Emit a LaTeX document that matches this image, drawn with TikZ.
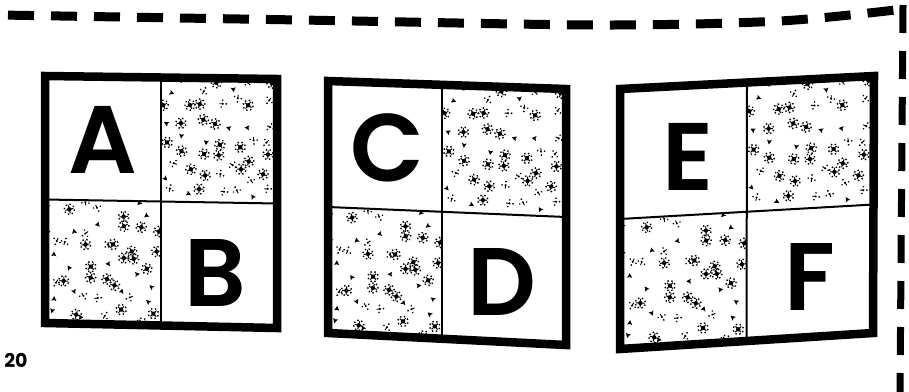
\documentclass[tikz,border=0pt]{standalone}
\usepackage{fontspec}
\setmainfont{Poppins}
\newfontfamily\letfont{Poppins}[UprightFont=* SemiBold, BoldFont=* SemiBold]
\usetikzlibrary{calc}
\tikzset{
  frame/.style={line width=8.5pt, line join=miter},
  divider/.style={line width=2pt},
  bigletter/.style={font=\fontsize{96}{96}\selectfont\letfont, inner sep=0pt, anchor=center},
  pagenum/.style={font=\fontsize{19}{19}\selectfont\bfseries, inner sep=0pt, anchor=center},
  dashtop/.style={line width=9pt, dash pattern=on 26pt off 17pt, dash phase=35pt},
  dashright/.style={line width=7pt, dash pattern=on 28pt off 18pt},
}
\newcommand\speckcell[5]{%
 \begin{scope}
  \clip (#1)--(#2)--(#3)--(#4)--cycle;
  \pgfmathsetseed{#5}
  \foreach \ii in {0,...,6}{
   \foreach \jj in {0,...,6}{
    \pgfmathsetmacro\uu{(\ii+0.1+0.8*rnd)/7}
    \pgfmathsetmacro\vv{(\jj+0.1+0.8*rnd)/7}
    \pgfmathtruncatemacro\kind{3*rnd}
    \pgfmathsetmacro\rot{360*rnd}
    \coordinate (sp) at ($($(#1)!\uu!(#2)$)!\vv!($(#4)!\uu!(#3)$)$);
    \ifcase\kind\relax
      \fill[shift={(sp)}, rotate=\rot] (0,0) circle (2.2) \foreach \a in {0,45,...,315}{ (\a:5) circle (1)};
      \draw[shift={(sp)}, rotate=\rot, line width=1pt] \foreach \a in {22,112,202,292}{ (\a:1.5) -- (\a:4.2)};
    \or
      \fill[shift={(sp)}, rotate=\rot] (0,-3) -- (2.5,1.7) -- (0,0.9) -- (-2.5,1.7) -- cycle;
    \or
      \fill[shift={(sp)}, rotate=\rot] (0,0) circle (1.2) (3.4,1) circle (1) (-2.3,2.8) circle (0.9) (1,-3.4) circle (0.9);
      \draw[shift={(sp)}, rotate=\rot, line width=0.9pt] (-3.2,-1) -- (0,0);
    \fi
   }
  }
 \end{scope}}
\begin{document}
\begin{tikzpicture}[x=1pt,y=-1pt]
\useasboundingbox (0,0) rectangle (909,391);
% square corners (stroke centre lines)
\coordinate (a1) at (45,76);  \coordinate (b1) at (277,79);
\coordinate (c1) at (277,328); \coordinate (d1) at (45,323);
\coordinate (a2) at (328,81); \coordinate (b2) at (566,89);
\coordinate (c2) at (566,345); \coordinate (d2) at (328,333);
\coordinate (a3) at (620,89); \coordinate (b3) at (874,76);
\coordinate (c3) at (873,333); \coordinate (d3) at (620,349);
\foreach \s/\vf in {1/0.5,2/0.48,3/0.5}{
  \coordinate (mt\s) at ($(a\s)!\vf!(b\s)$);
  \coordinate (mb\s) at ($(d\s)!\vf!(c\s)$);
  \coordinate (ml\s) at ($(a\s)!0.5!(d\s)$);
  \coordinate (mr\s) at ($(b\s)!0.5!(c\s)$);
  \coordinate (mc\s) at ($(ml\s)!\vf!(mr\s)$);
}
% speckled cells
\speckcell{mt1}{b1}{mr1}{mc1}{11}
\speckcell{ml1}{mc1}{mb1}{d1}{23}
\speckcell{mt2}{b2}{mr2}{mc2}{11}
\speckcell{ml2}{mc2}{mb2}{d2}{23}
\speckcell{mt3}{b3}{mr3}{mc3}{11}
\speckcell{ml3}{mc3}{mb3}{d3}{23}
% frames and dividers
\foreach \s in {1,2,3}{
  \draw[frame] (a\s) -- (b\s) -- (c\s) -- (d\s) -- cycle;
  \draw[divider] (mt\s) -- (mb\s);
  \draw[divider] (ml\s) -- (mr\s);
}
% letters
\node[bigletter] (lA) at (103,140) {A};
\node[bigletter] (lB) at (215,273) {B};
\node[bigletter] (lC) at (387,148) {C};
\node[bigletter] (lD) at (502,282) {D};
\node[bigletter] (lE) at (688,157) {E};
\node[bigletter] (lF) at (810,277) {F};
% page number
\node[pagenum] (pg) at (16,360) {20};
% dashed page frame
\coordinate (fbot) at (900,395);
\draw[dashtop] plot[smooth] coordinates {(0,15) (300,20) (600,25) (780,21) (904,9)};
\draw[dashright] (903,5) -- (fbot);
\end{tikzpicture}
\end{document}
